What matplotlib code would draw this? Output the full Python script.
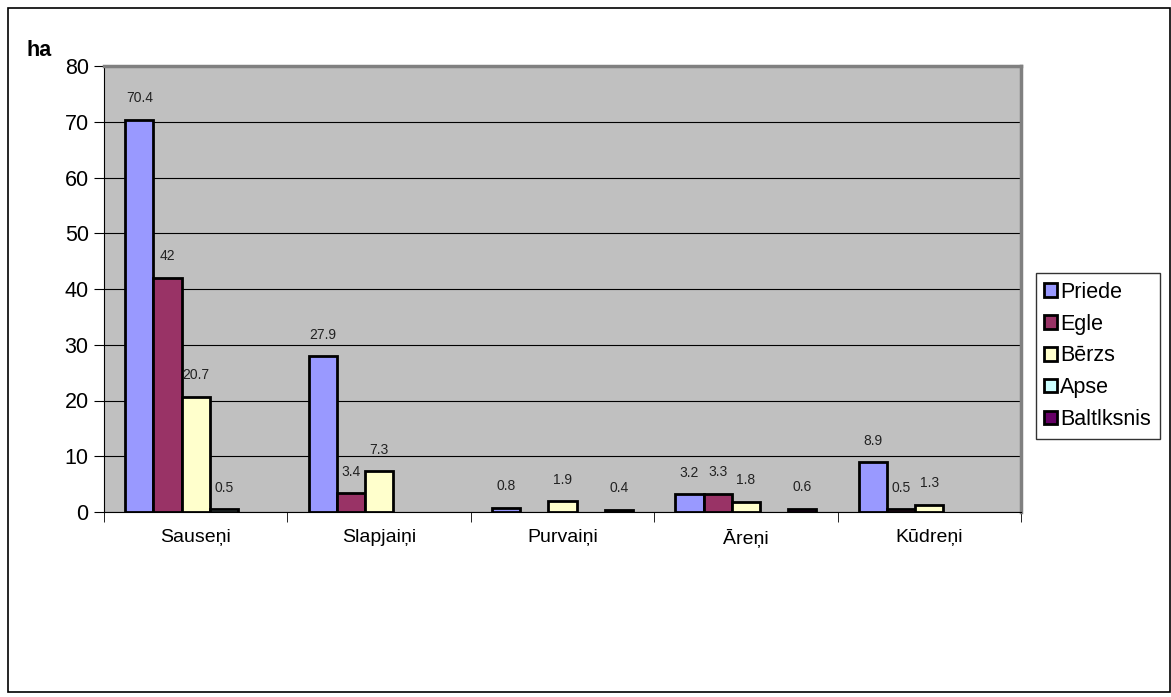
import numpy as np
import matplotlib.pyplot as plt
from matplotlib.patches import Rectangle

plt.rcParams["font.family"] = ["Liberation Sans", "DejaVu Sans"]

categories = ["Sauseņi", "Slapjaiņi", "Purvaiņi", "Āreņi", "Kūdreņi"]
series = ["Priede", "Egle", "Bērzs", "Apse", "Baltlksnis"]
priede = [70.4, 27.9, 0.8, 3.2, 8.9]
egle = [42, 3.4, 0, 3.3, 0.5]
berzs = [20.7, 7.3, 1.9, 1.8, 1.3]
apse = [0.5, 0, 0, 0, 0]
baltlksnis = [0, 0, 0.4, 0.6, 0]
colors = ["#9999FF", "#993366", "#FFFFCC", "#CCFFFF", "#660066"]

fig = plt.figure(figsize=(11.71, 6.97), dpi=100)
fig.patches.append(Rectangle((8 / 1171, 5 / 697), 1162 / 1171, 684 / 697,
                             transform=fig.transFigure, fill=False,
                             edgecolor="black", linewidth=1.2))

ax = fig.add_axes([104 / 1171, 1 - 512 / 697, 917 / 1171, 446 / 697])
ax.set_facecolor("#C0C0C0")

x = np.arange(len(categories))
w = 1 / 6.5
data = [priede, egle, berzs, apse, baltlksnis]
for i, (name, vals) in enumerate(zip(series, data)):
    pos = x - 2.5 * w + w / 2 + i * w
    # Excel draws nothing for empty cells
    heights = [v if v > 0 else np.nan for v in vals]
    ax.bar(pos, heights, width=w, color=colors[i], edgecolor="black",
           linewidth=2, label=name, zorder=3)
    for p, v in zip(pos, vals):
        if v > 0:
            ax.text(p, v + 2.6, "%g" % v, ha="center", va="bottom",
                    fontsize=10, color="#222222", zorder=4)

ax.set_xlim(-0.5, len(categories) - 0.5)
ax.set_ylim(0, 80)
ax.set_yticks(range(0, 81, 10))
ax.yaxis.grid(True, color="black", linewidth=0.8, zorder=1)
ax.set_xticks(x)
ax.set_xticklabels(categories, fontsize=14)
ax.tick_params(axis="x", length=0, pad=12)
ax.set_xticks(np.arange(-0.5, len(categories), 1), minor=True)
ax.tick_params(axis="x", which="minor", length=7, direction="out")
ax.tick_params(axis="y", labelsize=15.5, length=7, direction="out", pad=4)
for s in ["top", "right"]:
    ax.spines[s].set_color("#808080")
    ax.spines[s].set_linewidth(2.5)
ax.spines["left"].set_color("black")
ax.spines["bottom"].set_color("black")

fig.text(27 / 1171, 1 - 50 / 697, "ha", fontsize=15.5, fontweight="bold",
         va="center", ha="left")

leg = ax.legend(loc="center left", bbox_to_anchor=(1.016, 0.35), fontsize=15.5,
                frameon=True, fancybox=False, edgecolor="black",
                handlelength=0.6, handleheight=0.6, handletextpad=0.15,
                labelspacing=0.5, borderpad=0.4, borderaxespad=0)
leg.get_frame().set_linewidth(1.0)

fig.savefig("out.png", dpi=100)
